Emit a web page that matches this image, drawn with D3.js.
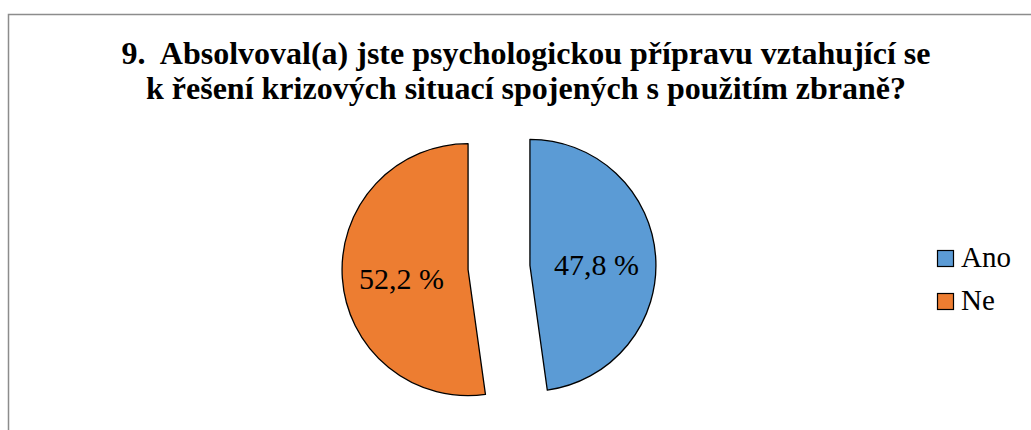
<!DOCTYPE html>
<html>
<head>
<meta charset="utf-8">
<script src="https://cdn.jsdelivr.net/npm/d3@7"></script>
<style>
  body { margin: 0; background: #fff; }
  svg { display: block; }
</style>
</head>
<body>
<svg id="chart" width="1031" height="430" font-family="Liberation Serif"></svg>
<script>
// chart data
const categories = ["Ano", "Ne"];
const values = [47.8, 52.2];
const labels = ["47,8 %", "52,2 %"];
const colors = ["#5B9BD5", "#ED7D31"];
const titleLines = ["9.  Absolvoval(a) jste psychologickou přípravu vztahující se",
    "k řešení krizových situací spojených s použitím zbraně?"];

let svg = d3.select("#chart");

// frame (only top and left edge visible in the picture)
svg.append("path")
    .attr("d", "M 8.5 440 L 8.5 14.5 L 1040 14.5")
    .attr("fill", "none")
    .attr("stroke", "#8c8c8c")
    .attr("stroke-width", 1.5);

// title
svg.append("g").selectAll("text")
    .data(titleLines)
    .enter().append("text")
    .attr("x", 526)
    .attr("y", (d, i) => 64 + i * 35)
    .attr("text-anchor", "middle")
    .attr("font-size", 32)
    .attr("font-weight", "bold")
    .style("font-family", "Liberation Serif")
    .attr("xml:space", "preserve")
    .text(d => d);

// pie
let cx = 499, cy = 267.5, radius = 126, explode = 31;

let pie = d3.pie().sort(null).value(d => d.value);
let arcs = pie(categories.map((c, i) => ({name: c, value: values[i], label: labels[i], color: colors[i]})));
let arc = d3.arc().innerRadius(0).outerRadius(radius);

let slice = svg.append("g")
    .attr("transform", "translate(" + cx + "," + cy + ")")
    .selectAll("g.slice")
    .data(arcs)
    .enter().append("g")
    .attr("class", "slice")
    .attr("transform", function (d) {
        let a = (d.startAngle + d.endAngle) / 2;
        return "translate(" + (Math.sin(a) * explode) + "," + (-Math.cos(a) * explode) + ")";
    });

slice.append("path")
    .attr("d", arc)
    .attr("fill", d => d.data.color)
    .attr("stroke", "#000")
    .attr("stroke-width", 1.3)
    .attr("stroke-linejoin", "round");

slice.append("text")
    .attr("x", d => Math.sin((d.startAngle + d.endAngle) / 2) * radius * 0.53)
    .attr("y", d => -Math.cos((d.startAngle + d.endAngle) / 2) * radius * 0.53 + 4)
    .attr("dy", "0.35em")
    .attr("text-anchor", "middle")
    .attr("font-size", 30)
    .style("font-family", "Liberation Serif")
    .text(d => d.data.label);

// legend
let legend = svg.append("g")
    .selectAll("g.legend")
    .data(categories)
    .enter().append("g")
    .attr("class", "legend")
    .attr("transform", (d, i) => "translate(937," + (250 + i * 43) + ")");

legend.append("rect")
    .attr("x", 0.5)
    .attr("y", 0.5)
    .attr("width", 16)
    .attr("height", 16)
    .attr("fill", (d, i) => colors[i])
    .attr("stroke", "#000")
    .attr("stroke-width", 1.2);

legend.append("text")
    .attr("x", 24)
    .attr("y", 17)
    .attr("font-size", 29)
    .style("font-family", "Liberation Serif")
    .text(d => d);
</script>
</body>
</html>
